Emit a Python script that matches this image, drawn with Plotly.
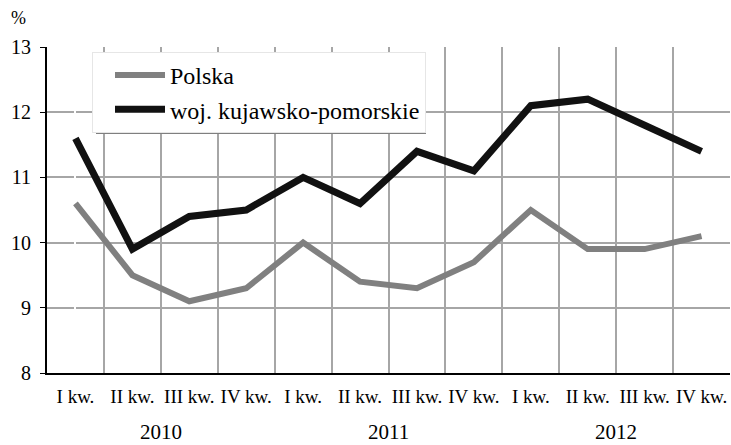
import plotly.graph_objects as go

quarters = ["I kw.", "II kw.", "III kw.", "IV kw."] * 3
years = ["2010", "2011", "2012"]
polska = [10.6, 9.5, 9.1, 9.3, 10.0, 9.4, 9.3, 9.7, 10.5, 9.9, 9.9, 10.1]
kujawsko = [11.6, 9.9, 10.4, 10.5, 11.0, 10.6, 11.4, 11.1, 12.1, 12.2, 11.8, 11.4]

x = list(range(len(quarters)))
serif = "Liberation Serif"

# obszar wykresu w pikselach: x 47..730, y 47..373
L, T, W, H = 47, 47, 683, 326


def px(xp):
    return (xp - L) / W


def py(yp):
    return (T + H - yp) / H


fig = go.Figure()
fig.add_trace(go.Scatter(x=x, y=polska, mode="lines", name="Polska",
                         line=dict(color="#808080", width=6)))
fig.add_trace(go.Scatter(x=x, y=kujawsko, mode="lines", name="woj. kujawsko-pomorskie",
                         line=dict(color="#111111", width=7)))

fig.update_xaxes(
    range=[-0.5, 11.5], tickvals=x, ticktext=quarters, showgrid=False,
    showline=True, linecolor="black", linewidth=2, ticks="", automargin=False,
    ticklabelstandoff=5,
    tickfont=dict(family=serif, size=19, color="black"),
    minor=dict(tickvals=[i + 0.5 for i in x], showgrid=True,
               gridcolor="#a6a6a6", gridwidth=2),
)
fig.update_yaxes(
    range=[8, 13], dtick=1, showgrid=True, gridcolor="#a6a6a6", gridwidth=2,
    showline=True, linecolor="black", linewidth=2, ticks="outside",
    ticklen=5, tickcolor="black", zeroline=False, automargin=False,
    ticklabelstandoff=5,
    tickfont=dict(family=serif, size=20, color="black"),
)

# rok pod kwartałami
for k, yr in enumerate(years):
    fig.add_annotation(x=4 * k + 1.5, y=py(445), xref="x", yref="paper",
                       yanchor="bottom", text=yr, showarrow=False, borderpad=0,
                       font=dict(family=serif, size=21, color="black"))
fig.add_annotation(x=0, y=1, xref="paper", yref="paper", xshift=-29, yshift=29,
                   xanchor="center", yanchor="middle", text="%", showarrow=False,
                   font=dict(family=serif, size=18, color="black"))

# cień legendy
fig.add_shape(type="rect", xref="paper", yref="paper",
              x0=px(96), x1=px(426), y0=py(134), y1=py(56),
              fillcolor="#7f7f7f", line_width=0, layer="above")

fig.update_layout(
    width=731, height=445, plot_bgcolor="white", paper_bgcolor="white",
    margin=dict(l=L, r=731 - L - W, t=T, b=445 - T - H, autoexpand=False),
    font=dict(family=serif, color="black"),
    legend=dict(x=px(92), y=py(52), xanchor="left", yanchor="top",
                bgcolor="white", bordercolor="#e6e6e6", borderwidth=1,
                font=dict(family=serif, size=24, color="black"),
                itemwidth=50, indentation=17, tracegroupgap=0),
    showlegend=True,
)

fig.write_html("out.html", config={"displayModeBar": False},
               post_script="document.body.style.margin='0';")
